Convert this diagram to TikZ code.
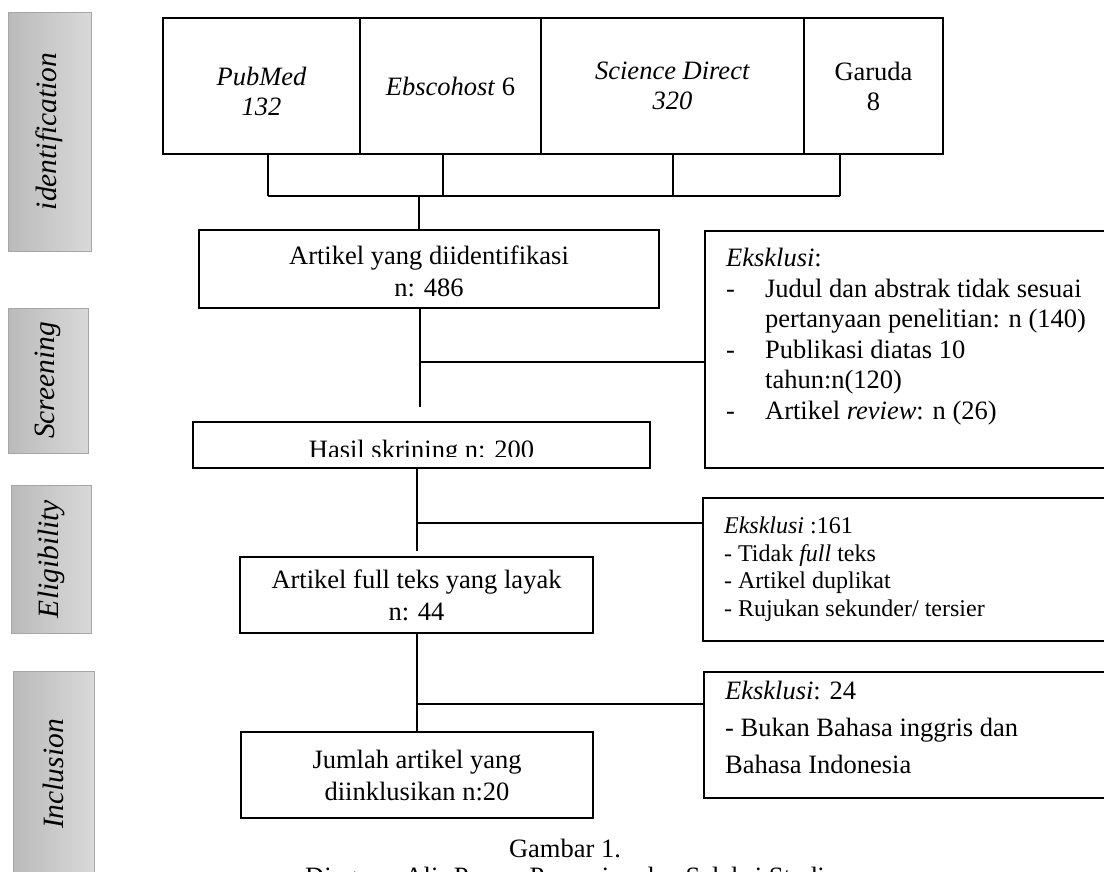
\documentclass[tikz,border=0pt]{standalone}
\usepackage{fontspec}
\setmainfont{Liberation Serif}
\usepackage{tikz}
\usetikzlibrary{positioning,calc}

\begin{document}
\begin{tikzpicture}[x=1pt,y=-1pt]

\tikzset{stage/.style={draw=black!35, line width=1pt, rotate=90, left color=black!27, right color=black!15, inner sep=0pt, font=\fontsize{29.5}{34}\selectfont\itshape},
         source/.style={draw, line width=2pt, minimum height=136pt, inner sep=0pt, align=center, font=\fontsize{26.5}{30}\selectfont},
         flowbox/.style={draw, line width=2.3pt, inner sep=0pt, align=center, font=\fontsize{26.5}{32}\selectfont},
         exclbox/.style={draw, line width=2.3pt, anchor=north west, inner xsep=21pt},
         link/.style={line width=1.3pt}}

\useasboundingbox (0,0) rectangle (1104,871);

\node[stage, minimum width=239pt, minimum height=83pt] (identification) at (49.5,131.5) {identification};
\node[stage, minimum width=145pt, minimum height=80pt] (screening) at (48,380.5) {Screening};
\node[stage, minimum width=148pt, minimum height=80pt] (eligibility) at (51,559) {Eligibility};
\node[stage, minimum width=206pt, minimum height=81pt] (inclusion) at (53.5,774) {Inclusion};

\node[source, minimum width=197pt] (pubmed) at (261.5,86) {\rule{0pt}{30pt}\textit{PubMed}\\\textit{132}};
\node[source, minimum width=181pt] (ebsco) at (450.5,86) {\textit{Ebscohost} 6};
\node[source, minimum width=263pt] (scidir) at (672.5,86) {\textit{Science Direct}\\\textit{320}};
\node[source, minimum width=139pt] (garuda) at (873.5,86) {Garuda\\8};

\node[flowbox, minimum width=460pt, minimum height=78pt] (ident) at (429,269) {\rule{0pt}{24pt}Artikel yang diidentifikasi\\n: 486};
\node[flowbox, minimum width=457pt, minimum height=46pt] (hasil) at (421.5,445) {};
\begin{scope}
  \clip (hasil.north west) rectangle ([yshift=13pt]hasil.south east);
  \node[anchor=base, font=\fontsize{26.5}{32}\selectfont, inner sep=0pt] (hasiltxt) at ([yshift=11pt]hasil.south) {Hasil skrining n: 200};
\end{scope}
\node[flowbox, minimum width=353pt, minimum height=76pt] (fullteks) at (416.5,595) {Artikel full teks yang layak\\n: 44};
\node[flowbox, minimum width=352pt, minimum height=86pt] (jumlah) at (417,775) {Jumlah artikel yang\\diinklusikan n:20};

\node[exclbox, inner ysep=17pt] (excl1) at (704,230) {\begin{minipage}[t][203pt][t]{420pt}\fontsize{26.5}{30.5}\selectfont
\textit{Eksklusi}:\\
\makebox[39pt][l]{-}Judul dan abstrak tidak sesuai\\
\hspace*{39pt}pertanyaan penelitian: n (140)\\
\makebox[39pt][l]{-}Publikasi diatas 10\\
\hspace*{39pt}tahun:n(120)\\
\makebox[39pt][l]{-}Artikel \textit{review}: n (26)
\end{minipage}};
\node[exclbox, inner ysep=19pt] (excl2) at (702,497) {\begin{minipage}[t][105pt][t]{420pt}\fontsize{24}{27.5}\selectfont
\textit{Eksklusi} :161\\
- Tidak \textit{full} teks\\
- Artikel duplikat\\
- Rujukan sekunder/ tersier
\end{minipage}};
\node[exclbox, inner ysep=9pt] (excl3) at (703,671) {\begin{minipage}[t][108pt][t]{420pt}\fontsize{26.5}{37}\selectfont
\textit{Eksklusi}: 24\\
- Bukan Bahasa inggris dan\\
Bahasa Indonesia
\end{minipage}};

\node[anchor=base, font=\fontsize{26.5}{30}\selectfont] (capnum) at (565,857) {Gambar 1.};
\node[anchor=base, font=\fontsize{26.5}{30}\selectfont] (captitle) at (565,885) {Diagram Alir Proses Pencarian dan Seleksi Studi};

\coordinate (tk1) at (268,196);
\coordinate (tk2) at (443,196);
\coordinate (tk3) at (673,196);
\coordinate (tk4) at (840,196);
\coordinate (jn) at (419,196);
\draw[link] (tk1 |- pubmed.south) -- (tk1);
\draw[link] (tk2 |- ebsco.south) -- (tk2);
\draw[link] (tk3 |- scidir.south) -- (tk3);
\draw[link] (tk4 |- garuda.south) -- (tk4);
\draw[link] (tk1) -- (tk4);
\draw[link] (jn) -- (jn |- ident.north);

\coordinate (g1) at (420,407);
\coordinate (b1) at (420,362);
\draw[link] (g1 |- ident.south) -- (g1);
\draw[link] (b1) -- (b1 -| excl1.west);

\coordinate (g2) at (417,551);
\coordinate (b2) at (418,523);
\draw[link] (g2 |- hasil.south) -- (g2);
\draw[link] (b2) -- (b2 -| excl2.west);

\coordinate (b3) at (417,704);
\draw[link] (b3 |- fullteks.south) -- (b3 |- jumlah.north);
\draw[link] (b3) -- (b3 -| excl3.west);

\end{tikzpicture}
\end{document}
